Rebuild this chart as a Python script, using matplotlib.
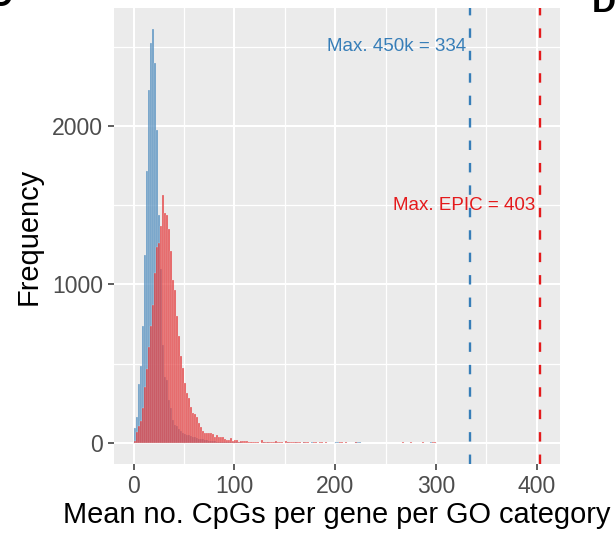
import matplotlib.pyplot as plt
import numpy as np

plt.rcParams['font.family'] = ['Liberation Sans', 'DejaVu Sans']

# histogram counts, bin width 2 starting at 0
binwidth = 2
counts_450k = [95, 164, 372, 486, 738, 1186, 1716, 2227, 2524, 2612,
               2397, 1975, 1438, 1100, 620, 416, 400, 271, 221, 145,
               113, 110, 88, 75, 63, 57, 52, 48, 44, 40,
               36, 32, 28, 25, 22, 20, 18, 15, 13, 12,
               10, 9, 8, 7, 6, 6, 5, 5, 4, 4,
               3, 3, 3, 3, 2, 2, 2, 2, 2, 2, 1, 1]
counts_epic = [13, 69, 107, 140, 221, 353, 467, 606, 738, 870,
               1070, 1237, 1262, 1369, 1565, 1451, 1438, 1350, 1211, 1028,
               965, 801, 673, 549, 473, 379, 315, 284, 227, 189,
               183, 164, 126, 101, 76, 63, 63, 60, 60, 57,
               38, 50, 38, 38, 38, 25, 19, 19, 32, 13,
               19, 19, 6, 13, 13, 13, 10, 6, 6, 8, 6, 3]

# sparse long tail (bin left edge, count)
tail_450k_x = [128, 132, 140, 152, 160, 168, 176, 200, 202, 220, 222, 224, 294, 334]
tail_450k_n = [4, 4, 4, 4, 4, 3, 6, 6, 5, 5, 6, 5, 6, 1]
tail_epic_x = [126, 128, 130, 132, 134, 136, 138, 140, 142, 144, 146, 150, 152,
               154, 156, 158, 160, 162, 164, 168, 170, 172, 178, 180, 184, 186,
               190, 204, 206, 210, 220, 266, 274, 286, 296, 298, 402]
tail_epic_n = [19, 5, 6, 6, 5, 4, 4, 10, 5, 5, 4, 10, 8,
               5, 5, 4, 5, 4, 5, 4, 4, 4, 5, 5, 5, 5,
               4, 5, 5, 4, 4, 5, 5, 5, 5, 4, 1]

max_450k = 334
max_epic = 403

blue = '#377EB8'
red = '#E41A1C'

edges_450k = np.arange(len(counts_450k)) * binwidth
edges_epic = np.arange(len(counts_epic)) * binwidth

fig = plt.figure(figsize=(6.16, 5.33), dpi=100)
ax = fig.add_axes([0.1851, 0.1295, 0.724, 0.8555])
ax.set_facecolor('#EBEBEB')

ax.bar(np.concatenate([edges_450k, tail_450k_x]), counts_450k + tail_450k_n,
       width=binwidth, align='edge', color=blue, alpha=0.7,
       edgecolor='#EBEBEB', linewidth=0.25, zorder=2)
ax.bar(np.concatenate([edges_epic, tail_epic_x]), counts_epic + tail_epic_n,
       width=binwidth, align='edge', color=red, alpha=0.68,
       edgecolor='#EBEBEB', linewidth=0.25, zorder=3)

ax.axvline(max_450k, color=blue, lw=1.7, dashes=(4, 5.5), zorder=4)
ax.axvline(max_epic, color=red, lw=1.7, dashes=(4, 5.5), zorder=4)
ax.text(max_450k - 4, 2500, 'Max. 450k = %d' % max_450k, color=blue,
        ha='right', va='center', fontsize=13.5, zorder=5)
ax.text(max_epic - 4, 1500, 'Max. EPIC = %d' % max_epic, color=red,
        ha='right', va='center', fontsize=13.5, zorder=5)

ax.set_xlim(-19.4, 423.1)
ax.set_ylim(-132.5, 2744)
ax.set_xticks([0, 100, 200, 300, 400])
ax.set_xticks([50, 150, 250, 350], minor=True)
ax.set_yticks([0, 1000, 2000])
ax.set_yticks([500, 1500, 2500], minor=True)
ax.grid(which='major', color='white', lw=1.45, zorder=0)
ax.grid(which='minor', color='white', lw=0.9, zorder=0)
ax.set_axisbelow(True)
for s in ax.spines.values():
    s.set_visible(False)
ax.tick_params(which='major', length=4.5, width=1.1, color='#333333',
               labelcolor='#4D4D4D', labelsize=16.6, pad=3.5)
ax.tick_params(which='minor', length=0)

ax.set_xlabel('Mean no. CpGs per gene per GO category', fontsize=20.9, labelpad=2)
ax.set_ylabel('Frequency', fontsize=20.9, labelpad=7)

# neighbouring panel letters, cut off at the edges
fig.text(-0.02, 1 - 6 / 533, 'C', fontsize=24, weight='bold', ha='left', va='baseline')
fig.text(592 / 616, 1 - 12 / 533, 'D', fontsize=24, weight='bold', ha='left', va='baseline')

fig.savefig('out.png', dpi=100)
